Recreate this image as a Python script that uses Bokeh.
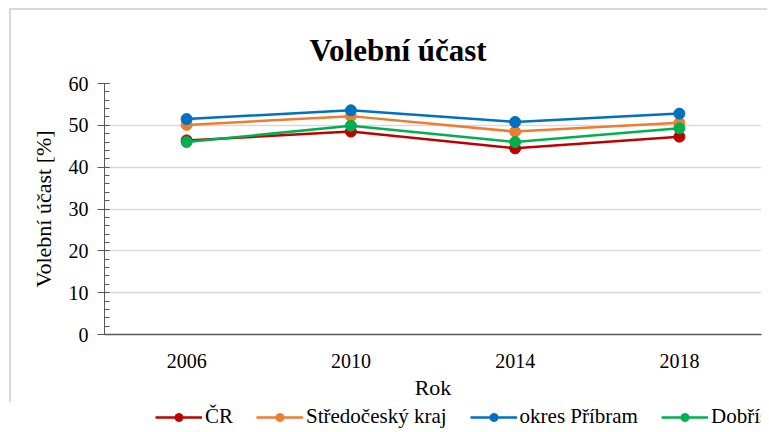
from bokeh.plotting import figure
from bokeh.layouts import column
from bokeh.models import (FactorRange, Range1d, Legend, LegendItem, Title,
                          SingleIntervalTicker)
from bokeh.embed import file_html
from bokeh.resources import INLINE

years = ["2006", "2010", "2014", "2018"]
cr = [46.4, 48.5, 44.5, 47.3]
stredocesky = [50.1, 52.2, 48.5, 50.6]
pribram = [51.5, 53.6, 50.8, 52.8]
dobris = [46.0, 49.9, 46.0, 49.3]

series = [
    ("ČR", cr, "#C00000"),
    ("Středočeský kraj", stredocesky, "#ED7D31"),
    ("okres Příbram", pribram, "#0070C0"),
    ("Dobříš", dobris, "#00B050"),
]

FONT = "Liberation Serif"

p = figure(width=758, height=394, output_backend="svg", toolbar_location=None,
           x_range=FactorRange(*years), y_range=Range1d(0, 60),
           min_border_left=93, min_border_right=8, min_border_top=73,
           min_border_bottom=70)
p.styles = {"border-top": "2px solid #d9d9d9", "border-left": "2px solid #d9d9d9"}
p.margin = (8, 0, 0, 9)
p.outline_line_color = None
p.background_fill_color = "white"
p.border_fill_color = "white"

p.title = Title(text="Volební účast", text_font=FONT, text_font_size="31px",
                text_font_style="bold", align="left", offset=205,
                standoff=32, text_color="#000000")

p.xgrid.grid_line_color = None
p.ygrid.grid_line_color = "#d9d9d9"
p.ygrid.grid_line_width = 1.5

p.yaxis.ticker = SingleIntervalTicker(interval=10, num_minor_ticks=5)
p.yaxis.major_tick_in = 5
p.yaxis.major_tick_out = 7
p.yaxis.minor_tick_in = 5
p.yaxis.minor_tick_out = 0
p.yaxis.axis_line_color = "#595959"
p.yaxis.major_tick_line_color = "#595959"
p.yaxis.minor_tick_line_color = "#595959"
p.yaxis.axis_label = "Volební účast [%]"
p.yaxis.axis_label_text_font = FONT
p.yaxis.axis_label_text_font_size = "22px"
p.yaxis.axis_label_text_font_style = "normal"
p.yaxis.axis_label_text_color = "#000000"
p.yaxis.axis_label_standoff = 10
p.yaxis.major_label_text_font = FONT
p.yaxis.major_label_text_font_size = "20px"
p.yaxis.major_label_text_color = "#000000"
p.yaxis.major_label_standoff = 9

p.xaxis.major_tick_line_color = None
p.xaxis.minor_tick_line_color = None
p.xaxis.axis_line_color = "#595959"
p.xaxis.axis_line_width = 1.5
p.xaxis.axis_label = "Rok"
p.xaxis.axis_label_text_font = FONT
p.xaxis.axis_label_text_font_size = "22px"
p.xaxis.axis_label_text_font_style = "normal"
p.xaxis.axis_label_text_color = "#000000"
p.xaxis.axis_label_standoff = 4
p.xaxis.major_label_text_font = FONT
p.xaxis.major_label_text_font_size = "20px"
p.xaxis.major_label_text_color = "#000000"
p.xaxis.major_label_standoff = 13

for name, vals, col in series:
    p.line(years, vals, line_color=col, line_width=2.5)
    p.scatter(years, vals, size=11, fill_color=col, line_color=col)

# legend strip below the chart
pl = figure(width=758, height=28, output_backend="svg", toolbar_location=None,
            x_range=FactorRange(*years), y_range=Range1d(0, 1),
            min_border=0, x_axis_type=None, y_axis_type=None)
pl.margin = (0, 0, 0, 11)
pl.outline_line_color = None
pl.grid.grid_line_color = None
items = []
for name, vals, col in series:
    l = pl.line(years, vals, line_color=col, line_width=2.5)
    c = pl.scatter(years, vals, size=10, fill_color=col, line_color=col)
    items.append(LegendItem(label=name, renderers=[l, c]))

legend = Legend(items=items, orientation="horizontal", location=(51, 1),
                glyph_width=47, glyph_height=20, label_standoff=3, spacing=23,
                padding=0, margin=0, border_line_color=None,
                background_fill_alpha=0,
                label_text_font=FONT, label_text_font_size="21px",
                label_text_color="#000000")
pl.add_layout(legend, "center")

layout = column(p, pl, spacing=0)
open("out.html", "w").write(file_html(layout, INLINE))
